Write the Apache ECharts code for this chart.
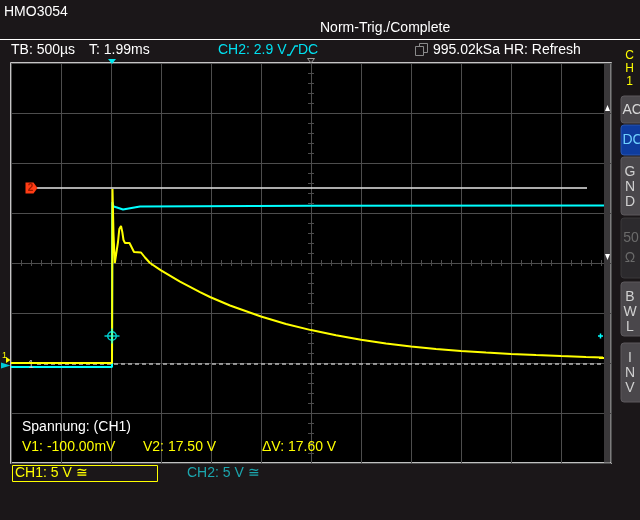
<!DOCTYPE html>
<html><head><meta charset="utf-8">
<script src="https://cdn.jsdelivr.net/npm/echarts@6/dist/echarts.min.js"></script>
<style>html,body{margin:0;padding:0;background:#1b1719;}#c{width:640px;height:520px;}</style>
</head><body><div id="c"></div>
<script>
// time in ms relative to screen centre (500 µs/div), voltage in V (5 V/div)
const ch1Time = [-3.00,-1.99,-1.985,-1.975,-1.962,-1.943,-1.93,-1.917,-1.90,-1.887,-1.875,-1.86,-1.84,-1.815,-1.795,-1.77,-1.70,-1.66,-1.61,-1.50,-1.31,-1.11,-1.01,-0.81,-0.50,-0.25,0.00,0.25,0.50,0.75,1.00,1.25,1.50,1.75,2.00,2.25,2.50,2.75,2.92];
const ch1Volt = [0.0,0.0,17.4,12.9,10.0,10.0,12.1,13.4,13.7,13.1,12.3,12.0,12.1,12.0,11.6,11.1,11.05,10.55,10.0,9.27,8.13,7.08,6.6,5.75,4.65,3.9,3.29,2.78,2.33,1.96,1.65,1.4,1.2,1.04,0.9,0.79,0.69,0.6,0.55];
const ch2Time = [-3.00,-1.99,-1.987,-1.975,-1.965,-1.94,-1.93,-1.88,-1.86,-1.71,0.00,2.93];
const ch2Volt = [-0.2,-0.2,16.3,15.85,15.75,15.75,15.55,15.55,15.75,15.85,15.92,15.95];
const cursorV1 = -0.1, cursorV2 = 17.5;
const cursorStart = -2.74, cursorEndV1 = 2.93, cursorEndV2 = 2.76;
const trigTime = -1.99, trigLevel = 2.9;

const GRIDC = '#4d4d4d';
const FONT = '"Liberation Sans", Arial, sans-serif';
function T(text, x, y, fill, size, extra) {
  return {type:'text', x:x, y:y, z:200,
    style:{text:text, fill:fill, font:(size||14)+'px '+FONT, textVerticalAlign:'top', verticalAlign:'top', textAlign:(extra&&extra.align)||'left', align:(extra&&extra.align)||'left'}};
}
function P(points, fill, stroke, z) {
  return {type:'polygon', z:z||200, shape:{points:points}, style:{fill:fill||'none', stroke:stroke||'none', lineWidth:1}};
}
function R(x,y,w,h,fill,stroke,r) {
  return {type:'rect', z:150, shape:{x:x,y:y,width:w,height:h,r:r||0}, style:{fill:fill||'none', stroke:stroke||'none', lineWidth:1}};
}

const tickAxisX = (pos) => ({type:'value', min:-3, max:3, interval:0.5, position:pos, offset:-200,
  axisLine:{show:false}, axisLabel:{show:false}, splitLine:{show:false},
  axisTick:{show:true, length:3, lineStyle:{color:GRIDC}},
  minorTick:{show:true, splitNumber:5, length:3, lineStyle:{color:GRIDC}}});
const tickAxisY = (pos) => ({type:'value', min:-10, max:30, interval:5, position:pos, offset:-300,
  axisLine:{show:false}, axisLabel:{show:false}, splitLine:{show:false},
  axisTick:{show:true, length:3, lineStyle:{color:GRIDC}},
  minorTick:{show:true, splitNumber:5, length:3, lineStyle:{color:GRIDC}}});

const graphics = [
  T('HMO3054', 4, 5, '#ffffff', 14),
  T('Norm-Trig./Complete', 320, 21, '#ffffff', 14),
  {type:'line', z:200, shape:{x1:0,y1:39.5,x2:640,y2:39.5}, style:{stroke:'#ffffff', lineWidth:1}},
  T('TB: 500\u00b5s', 11, 43, '#ffffff', 14),
  T('T: 1.99ms', 89, 43, '#ffffff', 14),
  T('CH2: 2.9 V', 218, 43, '#00e0f0', 14),
  {type:'polyline', z:200, shape:{points:[[287,55],[290,55],[295,46],[298,46]]}, style:{stroke:'#00e0f0', lineWidth:1.3, fill:'none'}},
  T('DC', 298, 43, '#00e0f0', 14),
  R(419.5,43.5,8,9,'#1b1719','#8a8a8a'),
  R(415.5,46.5,8,9,'#1b1719','#8a8a8a'),
  T('995.02kSa HR: Refresh', 433, 43, '#ffffff', 14),
  // side panel
  T('C', 629.5, 50, '#ffff00', 12, {align:'center'}),
  T('H', 629.5, 63, '#ffff00', 12, {align:'center'}),
  T('1', 629.5, 76, '#ffff00', 12, {align:'center'}),
  R(621,96,30,27,'#4a474b','#5c595d',3), T('AC', 622.5, 103, '#d8d8d8', 14),
  R(621,125,30,30,'#0e3c9e','#2a56b0',3), T('DC', 622.5, 133, '#6fd0ff', 14),
  R(621,157,30,58,'#4a474b','#5c595d',3),
  T('G', 630, 165, '#d0d0d0', 14, {align:'center'}), T('N', 630, 180, '#d0d0d0', 14, {align:'center'}), T('D', 630, 195, '#d0d0d0', 14, {align:'center'}),
  R(621,218,30,60,'#2c2a2d','#3a383b',3),
  T('50', 631, 231, '#6a6a6a', 14, {align:'center'}), T('\u03a9', 630, 251, '#6a6a6a', 14, {align:'center'}),
  R(621,282,30,54,'#4a474b','#5c595d',3),
  T('B', 630, 290, '#d0d0d0', 14, {align:'center'}), T('W', 630, 305, '#d0d0d0', 14, {align:'center'}), T('L', 630, 320, '#d0d0d0', 14, {align:'center'}),
  R(621,343,30,59,'#4a474b','#5c595d',3),
  T('I', 630, 351, '#d0d0d0', 14, {align:'center'}), T('N', 630, 366, '#d0d0d0', 14, {align:'center'}), T('V', 630, 381, '#d0d0d0', 14, {align:'center'}),
  // scrollbar strip inside plot
  R(604,64,6.5,398.5,'#3a383a',null,0),
  P([[605,111],[610,111],[607.5,105]], '#ffffff'),
  P([[605,254],[610,254],[607.5,260]], '#ffffff'),
  // top markers
  P([[108,59],[116,59],[112,64]], '#00e8f0'),
  P([[307.5,58.5],[314.5,58.5],[311,63]], 'none', '#9a9a9a'),
  // left edge markers
  T('1', 2, 351, '#ffff00', 9),
  P([[6,357],[6,363],[10.5,360]], '#ffff00'),
  P([[1,362.5],[1,368.5],[10.5,365.5]], '#00c8d8'),
  // right edge markers
  {type:'line', z:200, shape:{x1:598,y1:336,x2:603,y2:336}, style:{stroke:'#00ffff', lineWidth:1.5}},
  {type:'line', z:200, shape:{x1:600.5,y1:333.5,x2:600.5,y2:338.5}, style:{stroke:'#00ffff', lineWidth:1.5}},
  {type:'line', z:200, shape:{x1:599,y1:358,x2:604,y2:358}, style:{stroke:'#ffff00', lineWidth:2}},
  // measurement text
  T('Spannung: (CH1)', 22, 420, '#ffffff', 14),
  T('V1: -100.00mV', 22, 440, '#ffff00', 14),
  T('V2: 17.50 V', 143, 440, '#ffff00', 14),
  T('\u0394V: 17.60 V', 262, 440, '#ffff00', 14),
  R(12.5,465.5,145,16,'none','#ffff00',0),
  T('CH1: 5 V \u2245', 15, 466, '#ffff00', 14),
  T('CH2: 5 V \u2245', 187, 466, '#1ca6ae', 14)
];

const chart = echarts.init(document.getElementById('c'), null, {renderer:'canvas'});
chart.setOption({
  animation:false,
  backgroundColor:'#1b1719',
  grid:{left:11, top:63, width:600, height:400, show:true, backgroundColor:'#000000', borderColor:'#ffffff', borderWidth:1.5, containLabel:false},
  xAxis:[
    {type:'value', min:-3, max:3, interval:0.5, axisLine:{show:false}, axisTick:{show:false}, axisLabel:{show:false},
     splitLine:{show:true, lineStyle:{color:GRIDC, width:1}}},
    tickAxisX('bottom'), tickAxisX('top')
  ],
  yAxis:[
    {type:'value', min:-10, max:30, interval:5, axisLine:{show:false}, axisTick:{show:false}, axisLabel:{show:false},
     splitLine:{show:true, lineStyle:{color:GRIDC, width:1}}},
    {type:'value', min:-9.8, max:30.2, show:false},
    tickAxisY('left'), tickAxisY('right')
  ],
  graphic: graphics,
  series:[
    {type:'line', name:'CH2', xAxisIndex:0, yAxisIndex:1, symbol:'none', showSymbol:false, z:4,
     data: ch2Time.map((t,i)=>[t, ch2Volt[i]]), lineStyle:{color:'#00ffff', width:2}},
    {type:'line', name:'CH1', xAxisIndex:0, yAxisIndex:0, symbol:'none', showSymbol:false, z:5,
     data: ch1Time.map((t,i)=>[t, ch1Volt[i]]), lineStyle:{color:'#ffff00', width:2},
     markLine:{silent:true, symbol:['none','none'], label:{show:false}, animation:false,
       data:[
         [{coord:[cursorStart, cursorV2], lineStyle:{color:'#e6e6e6', width:1.5, type:'solid'}}, {coord:[cursorEndV2, cursorV2]}],
         [{coord:[cursorStart, cursorV1], lineStyle:{color:'#b8b8b8', width:1.5, type:[4,3]}}, {coord:[cursorEndV1, cursorV1]}]
       ]},
     markPoint:{silent:true, animation:false,
       data:[
         {coord:[-2.795, cursorV2], symbol:'path://M0,0L8,0L12,5L8,10L0,10Z', symbolSize:[12,11],
          itemStyle:{color:'#ff3c14'}, label:{show:true, formatter:'2', color:'#9a1800', fontSize:10, fontWeight:'bold', offset:[-1,0]}},
         {coord:[-2.80, cursorV1], symbol:'rect', symbolSize:[1,1], itemStyle:{color:'rgba(0,0,0,0)'},
          label:{show:true, formatter:'1', color:'#cfcfcf', fontSize:10, position:'inside', offset:[0,1]}}
       ]}
    },
    {type:'scatter', name:'Trigger', xAxisIndex:0, yAxisIndex:1, z:6,
     data:[[trigTime, trigLevel]],
     symbol:'path://M7,0L7,14M0,7L14,7M11,7A4,4,0,1,1,3,7A4,4,0,1,1,11,7', symbolSize:15,
     itemStyle:{color:'none', borderColor:'#00ffff', borderWidth:1.5}}
  ]
});
</script></body></html>
